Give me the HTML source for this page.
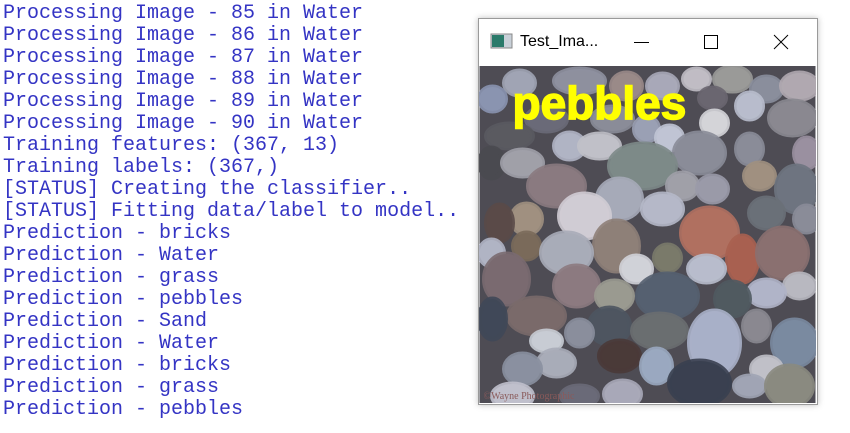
<!DOCTYPE html>
<html><head><meta charset="utf-8"><style>
html,body{margin:0;padding:0;background:#fff;width:850px;height:433px;overflow:hidden}
pre{position:absolute;left:3px;top:3px;margin:0;font-family:"Liberation Mono",monospace;font-size:20px;line-height:22px;color:#3434c4}
#win{position:absolute;left:478px;top:18px;width:338px;height:385px;border:1px solid #9a9a9a;box-shadow:0 0 6px rgba(0,0,0,.25);background:#fff}
#title{position:absolute;left:41px;top:14px;font-family:"Liberation Sans",sans-serif;font-size:16px;color:#000}
</style></head><body>
<pre>Processing Image - 85 in Water
Processing Image - 86 in Water
Processing Image - 87 in Water
Processing Image - 88 in Water
Processing Image - 89 in Water
Processing Image - 90 in Water
Training features: (367, 13)
Training labels: (367,)
[STATUS] Creating the classifier..
[STATUS] Fitting data/label to model..
Prediction - bricks
Prediction - Water
Prediction - grass
Prediction - pebbles
Prediction - Sand
Prediction - Water
Prediction - bricks
Prediction - grass
Prediction - pebbles</pre>
<div id="win">
<svg width="338" height="48" style="position:absolute;left:0;top:0">
<rect x="12" y="15" width="21" height="14" fill="#c8d0d8" stroke="#888"/>
<rect x="13" y="16" width="12" height="12" fill="#2a7a6a"/>
<line x1="155" y1="23.5" x2="170" y2="23.5" stroke="#000"/>
<rect x="225.5" y="16.5" width="13" height="13" fill="none" stroke="#000"/>
<line x1="295" y1="16" x2="309" y2="30" stroke="#000"/><line x1="309" y1="16" x2="295" y2="30" stroke="#000"/>
</svg>
<div id="title">Test_Ima...</div>
<svg width="337" height="337" style="position:absolute;left:0;top:47px" viewBox="0 0 336 337">
<rect width="336" height="337" fill="#4e4c54"/>
<g stroke-width="5" stroke-opacity="0.9">
<ellipse cx="40" cy="17" rx="15" ry="12" fill="#a0a4b4" stroke="#a0a4b4"/>
<ellipse cx="13" cy="33" rx="13" ry="12" fill="#8a94b0" stroke="#8a94b0"/>
<ellipse cx="147" cy="20" rx="15" ry="13" fill="#9a8a88" stroke="#9a8a88"/>
<ellipse cx="183" cy="20" rx="15" ry="12" fill="#a8a8b8" stroke="#a8a8b8"/>
<ellipse cx="217" cy="13" rx="13" ry="10" fill="#c0bcc4" stroke="#c0bcc4"/>
<ellipse cx="253" cy="13" rx="18" ry="12" fill="#9a9a98" stroke="#9a9a98"/>
<ellipse cx="287" cy="23" rx="15" ry="12" fill="#8a8e9c" stroke="#8a8e9c"/>
<ellipse cx="320" cy="20" rx="18" ry="13" fill="#b0a8b0" stroke="#b0a8b0"/>
<ellipse cx="100" cy="15" rx="25" ry="12" fill="#8e909e" stroke="#8e909e"/>
<ellipse cx="233" cy="32" rx="13" ry="10" fill="#6a6670" stroke="#6a6670"/>
<ellipse cx="270" cy="40" rx="13" ry="13" fill="#b8bccc" stroke="#b8bccc"/>
<ellipse cx="313" cy="52" rx="23" ry="17" fill="#8a8890" stroke="#8a8890"/>
<ellipse cx="235" cy="57" rx="13" ry="12" fill="#d4d4d8" stroke="#d4d4d8"/>
<ellipse cx="67" cy="53" rx="20" ry="12" fill="#6a6a78" stroke="#6a6a78"/>
<ellipse cx="133" cy="53" rx="20" ry="12" fill="#8a8c98" stroke="#8a8c98"/>
<ellipse cx="167" cy="63" rx="12" ry="12" fill="#9aa0b4" stroke="#9aa0b4"/>
<ellipse cx="190" cy="72" rx="13" ry="12" fill="#c0c4d4" stroke="#c0c4d4"/>
<ellipse cx="30" cy="70" rx="23" ry="12" fill="#5a5a60" stroke="#5a5a60"/>
<ellipse cx="90" cy="80" rx="15" ry="13" fill="#b0b4c4" stroke="#b0b4c4"/>
<ellipse cx="120" cy="80" rx="20" ry="12" fill="#c0c0c8" stroke="#c0c0c8"/>
<ellipse cx="270" cy="83" rx="13" ry="15" fill="#8a8c98" stroke="#8a8c98"/>
<ellipse cx="327" cy="87" rx="12" ry="15" fill="#9a90a0" stroke="#9a90a0"/>
<ellipse cx="220" cy="87" rx="25" ry="20" fill="#8a8c98" stroke="#8a8c98"/>
<ellipse cx="12" cy="97" rx="12" ry="15" fill="#4a4a50" stroke="#4a4a50"/>
<ellipse cx="43" cy="97" rx="20" ry="13" fill="#a0a0a8" stroke="#a0a0a8"/>
<ellipse cx="163" cy="100" rx="33" ry="22" fill="#7d8a88" stroke="#7d8a88"/>
<ellipse cx="280" cy="110" rx="15" ry="13" fill="#a09080" stroke="#a09080"/>
<ellipse cx="203" cy="120" rx="15" ry="13" fill="#a0a0a8" stroke="#a0a0a8"/>
<ellipse cx="233" cy="123" rx="15" ry="13" fill="#9a9aa8" stroke="#9a9aa8"/>
<ellipse cx="317" cy="123" rx="20" ry="23" fill="#6e7480" stroke="#6e7480"/>
<ellipse cx="77" cy="120" rx="28" ry="20" fill="#8a7a80" stroke="#8a7a80"/>
<ellipse cx="140" cy="133" rx="22" ry="20" fill="#a6aab8" stroke="#a6aab8"/>
<ellipse cx="183" cy="143" rx="20" ry="15" fill="#b5b8c8" stroke="#b5b8c8"/>
<ellipse cx="287" cy="147" rx="17" ry="15" fill="#6a7078" stroke="#6a7078"/>
<ellipse cx="327" cy="153" rx="12" ry="13" fill="#8a8c98" stroke="#8a8c98"/>
<ellipse cx="105" cy="150" rx="25" ry="22" fill="#d0ccd4" stroke="#d0ccd4"/>
<ellipse cx="47" cy="153" rx="15" ry="15" fill="#a09080" stroke="#a09080"/>
<ellipse cx="20" cy="157" rx="13" ry="18" fill="#5a4a48" stroke="#5a4a48"/>
<ellipse cx="230" cy="167" rx="28" ry="25" fill="#b07060" stroke="#b07060"/>
<ellipse cx="137" cy="180" rx="22" ry="25" fill="#8e8078" stroke="#8e8078"/>
<ellipse cx="47" cy="180" rx="13" ry="13" fill="#7a6a5a" stroke="#7a6a5a"/>
<ellipse cx="12" cy="187" rx="12" ry="13" fill="#b0b4c4" stroke="#b0b4c4"/>
<ellipse cx="87" cy="187" rx="25" ry="20" fill="#a8acb8" stroke="#a8acb8"/>
<ellipse cx="188" cy="192" rx="13" ry="13" fill="#7a7a6a" stroke="#7a7a6a"/>
<ellipse cx="263" cy="193" rx="15" ry="23" fill="#a86050" stroke="#a86050"/>
<ellipse cx="303" cy="187" rx="25" ry="25" fill="#8a7070" stroke="#8a7070"/>
<ellipse cx="157" cy="203" rx="15" ry="13" fill="#d0d2d8" stroke="#d0d2d8"/>
<ellipse cx="227" cy="203" rx="18" ry="13" fill="#b8bccc" stroke="#b8bccc"/>
<ellipse cx="27" cy="213" rx="22" ry="25" fill="#7a6a70" stroke="#7a6a70"/>
<ellipse cx="97" cy="220" rx="22" ry="20" fill="#8c7a80" stroke="#8c7a80"/>
<ellipse cx="320" cy="220" rx="15" ry="12" fill="#b8b8c0" stroke="#b8b8c0"/>
<ellipse cx="287" cy="227" rx="18" ry="13" fill="#b0b4c8" stroke="#b0b4c8"/>
<ellipse cx="135" cy="230" rx="18" ry="15" fill="#9a9a90" stroke="#9a9a90"/>
<ellipse cx="188" cy="230" rx="30" ry="22" fill="#556070" stroke="#556070"/>
<ellipse cx="253" cy="233" rx="17" ry="17" fill="#505a60" stroke="#505a60"/>
<ellipse cx="57" cy="250" rx="28" ry="18" fill="#7a6a6a" stroke="#7a6a6a"/>
<ellipse cx="13" cy="253" rx="13" ry="20" fill="#404858" stroke="#404858"/>
<ellipse cx="130" cy="260" rx="20" ry="18" fill="#4e5560" stroke="#4e5560"/>
<ellipse cx="277" cy="260" rx="13" ry="15" fill="#8a8890" stroke="#8a8890"/>
<ellipse cx="180" cy="265" rx="27" ry="17" fill="#6a6e70" stroke="#6a6e70"/>
<ellipse cx="100" cy="267" rx="13" ry="13" fill="#8a8e9c" stroke="#8a8e9c"/>
<ellipse cx="67" cy="275" rx="15" ry="10" fill="#c8ccd4" stroke="#c8ccd4"/>
<ellipse cx="235" cy="277" rx="25" ry="32" fill="#a8b0c8" stroke="#a8b0c8"/>
<ellipse cx="315" cy="277" rx="22" ry="23" fill="#7a8aa0" stroke="#7a8aa0"/>
<ellipse cx="140" cy="290" rx="20" ry="15" fill="#4a3a38" stroke="#4a3a38"/>
<ellipse cx="77" cy="297" rx="18" ry="13" fill="#a8acb8" stroke="#a8acb8"/>
<ellipse cx="177" cy="300" rx="15" ry="17" fill="#9aa8c0" stroke="#9aa8c0"/>
<ellipse cx="43" cy="303" rx="18" ry="15" fill="#8a90a0" stroke="#8a90a0"/>
<ellipse cx="287" cy="303" rx="15" ry="12" fill="#c0c0c8" stroke="#c0c0c8"/>
<ellipse cx="220" cy="317" rx="30" ry="22" fill="#3a4050" stroke="#3a4050"/>
<ellipse cx="270" cy="320" rx="15" ry="10" fill="#a0a4b4" stroke="#a0a4b4"/>
<ellipse cx="310" cy="320" rx="23" ry="20" fill="#8a8a80" stroke="#8a8a80"/>
<ellipse cx="33" cy="330" rx="20" ry="12" fill="#c0c0cc" stroke="#c0c0cc"/>
<ellipse cx="143" cy="328" rx="18" ry="13" fill="#a8a8b8" stroke="#a8a8b8"/>
<ellipse cx="100" cy="330" rx="18" ry="10" fill="#6a6a78" stroke="#6a6a78"/>
</g>
<text x="4" y="333" font-family="Liberation Serif,serif" font-size="10" fill="#8a5a5a">©Wayne Photographic</text>
<text x="33" y="53" font-family="Liberation Sans,sans-serif" font-weight="bold" font-size="46" fill="#ffff00" stroke="#ffff00" stroke-width="1.5">pebbles</text>
</svg>
</div>
</body></html>
